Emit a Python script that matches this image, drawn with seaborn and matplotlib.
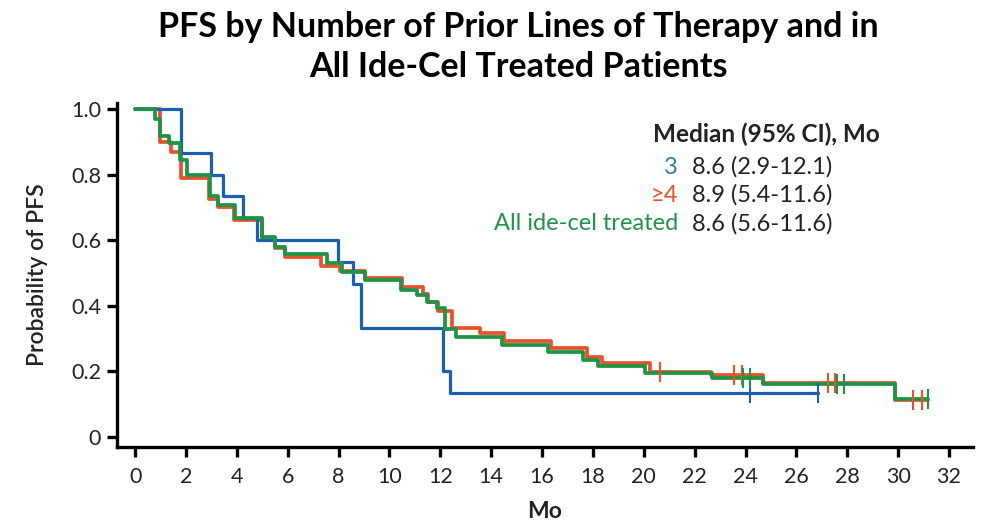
import matplotlib
matplotlib.use("Agg")
import matplotlib.pyplot as plt
import numpy as np
import pandas as pd
import seaborn as sns

# Kaplan-Meier step coordinates (time in months, survival after each step)
t_three = [0, 1.8, 2.97, 3.47, 4.26, 4.78, 7.99, 8.56, 8.9, 12.12, 12.4, 26.86]
s_three = [1.0, 0.867, 0.8, 0.733, 0.667, 0.6, 0.533, 0.467, 0.333, 0.2, 0.133, 0.133]
c_three = [24.17, 26.86]

t_four = [0, 0.97, 1.4, 1.8, 2.9, 3.24, 3.9, 4.98, 5.5, 5.9, 7.3, 8.05, 9.05, 10.48,
          11.33, 11.5, 11.9, 12.45, 13.56, 14.5, 16.35, 17.75, 18.37, 20.24, 22.65,
          24.7, 29.87, 31.16]
s_four = [1.0, 0.90, 0.87, 0.79, 0.726, 0.70, 0.66, 0.604, 0.575, 0.55, 0.522, 0.506,
          0.484, 0.458, 0.435, 0.41, 0.385, 0.333, 0.316, 0.292, 0.27, 0.243, 0.225,
          0.199, 0.189, 0.165, 0.112, 0.112]
c_four = [20.64, 23.53, 23.85, 27.25, 27.52, 30.57, 30.92]

t_all = [0, 0.8, 0.98, 1.35, 1.77, 2.03, 2.95, 3.24, 3.93, 4.98, 5.5, 5.9, 7.53, 8.12,
         9.05, 10.45, 11.07, 11.47, 11.86, 12.2, 12.62, 14.41, 16.25, 17.62, 18.2,
         20.05, 22.7, 24.7, 29.87, 31.16]
s_all = [1.0, 0.968, 0.918, 0.895, 0.845, 0.80, 0.733, 0.707, 0.667, 0.61, 0.58, 0.558,
         0.529, 0.504, 0.48, 0.448, 0.433, 0.412, 0.392, 0.33, 0.306, 0.28, 0.26,
         0.235, 0.216, 0.194, 0.179, 0.163, 0.115, 0.115]
c_all = [23.91, 24.17, 27.6, 27.88, 31.16]

groups = ["≥4", "3", "All ide-cel treated"]
colors = {"3": "#1b5fb5", "≥4": "#e8522a", "All ide-cel treated": "#1f9446"}
label_colors = {"3": "#2e7fa0", "≥4": "#e8522a", "All ide-cel treated": "#1f9446"}
medians = {"3": "8.6 (2.9-12.1)", "≥4": "8.9 (5.4-11.6)",
           "All ide-cel treated": "8.6 (5.6-11.6)"}

x_ticks = list(range(0, 33, 2))
y_ticks = [0, 0.2, 0.4, 0.6, 0.8, 1.0]
y_tick_labels = ["0", "0.2", "0.4", "0.6", "0.8", "1.0"]

curves = pd.concat([
    pd.DataFrame({"Mo": t_four, "PFS": s_four, "group": "≥4"}),
    pd.DataFrame({"Mo": t_three, "PFS": s_three, "group": "3"}),
    pd.DataFrame({"Mo": t_all, "PFS": s_all, "group": "All ide-cel treated"}),
], ignore_index=True)


def censor_frame(times, t, s, name):
    vals = [s[np.searchsorted(t, c, side="right") - 1] for c in times]
    return pd.DataFrame({"Mo": times, "PFS": vals, "group": name})


censors = pd.concat([
    censor_frame(c_four, t_four, s_four, "≥4"),
    censor_frame(c_three, t_three, s_three, "3"),
    censor_frame(c_all, t_all, s_all, "All ide-cel treated"),
], ignore_index=True)

sns.set_theme(style="ticks")
plt.rcParams["font.family"] = ["Lato", "DejaVu Sans"]

fig = plt.figure(figsize=(9.86, 5.27), dpi=100)
ax = fig.add_axes([0.1187, 0.1518, 0.868, 0.6528])

widths = {"3": 2.3, "≥4": 2.7, "All ide-cel treated": 2.7}
for g in groups:
    sub = curves[curves["group"] == g]
    sns.lineplot(data=sub, x="Mo", y="PFS", ax=ax, color=colors[g],
                 drawstyle="steps-post", estimator=None, sort=False,
                 linewidth=widths[g], legend=False)
    cs = censors[censors["group"] == g]
    sns.scatterplot(data=cs, x="Mo", y="PFS", ax=ax, color=colors[g],
                    marker="|", s=210, linewidth=1.5, legend=False, zorder=3)

ax.set_xlim(-0.71, 32.94)
ax.set_ylim(-0.0305, 1.018)
ax.set_xticks(x_ticks)
ax.set_yticks(y_ticks)
ax.set_yticklabels(y_tick_labels)
ax.tick_params(axis="both", labelsize=15.5, width=2.4, length=7.5, colors="black",
               labelcolor="#222222")
ax.tick_params(axis="x", pad=7)
ax.tick_params(axis="y", pad=4)
for side in ["top", "right"]:
    ax.spines[side].set_visible(False)
for side in ["left", "bottom"]:
    ax.spines[side].set_linewidth(2.4)
    ax.spines[side].set_color("black")

ax.set_xlabel("")
ax.set_ylabel("")
fig.text(38 / 986, 1 - 275 / 527, "Probability of PFS", rotation=90, ha="center",
         va="center", fontsize=16.5, color="#222222", fontweight="semibold")
fig.text(545 / 986, 1 - 511 / 527, "Mo", ha="center", va="center", fontsize=16.5,
         color="#222222", fontweight="bold")

fig.text(518 / 986, 1 - 27 / 527, "PFS by Number of Prior Lines of Therapy and in",
         ha="center", va="center", fontsize=24.5, fontweight="bold", color="black")
fig.text(518 / 986, 1 - 67 / 527, "All Ide-Cel Treated Patients",
         ha="center", va="center", fontsize=24.5, fontweight="bold", color="black")

# Median PFS annotation block
fig.text(653 / 986, 1 - 134 / 527, "Median (95% CI), Mo", ha="left", va="center",
         fontsize=17.5, fontweight="bold", color="#222222")
rows = [("3", 167), ("≥4", 195), ("All ide-cel treated", 224)]
for name, ypx in rows:
    fig.text(678 / 986, 1 - ypx / 527, name, ha="right", va="center", fontsize=17,
             color=label_colors[name])
    fig.text(692 / 986, 1 - ypx / 527, medians[name], ha="left", va="center",
             fontsize=17, color="#222222")

fig.savefig("out.png", dpi=100)
